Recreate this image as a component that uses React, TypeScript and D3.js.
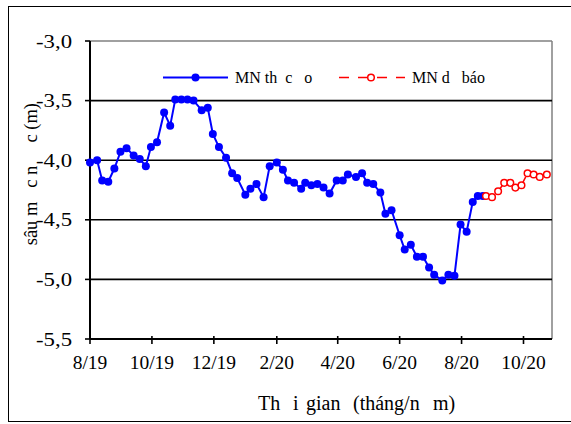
import React from "react";
import * as d3 from "d3";

const obsDates = [
  "2019-08-01","2019-08-08","2019-08-13","2019-08-19","2019-08-25","2019-08-31",
  "2019-09-06","2019-09-13","2019-09-19","2019-09-25","2019-09-30",
  "2019-10-06","2019-10-13","2019-10-19","2019-10-24","2019-10-30",
  "2019-11-05","2019-11-11","2019-11-19","2019-11-25","2019-11-30",
  "2019-12-06","2019-12-13","2019-12-19","2019-12-24",
  "2020-01-01","2020-01-06","2020-01-12","2020-01-19","2020-01-25",
  "2020-02-01","2020-02-07","2020-02-12","2020-02-18","2020-02-25","2020-02-29",
  "2020-03-06","2020-03-12","2020-03-18","2020-03-24","2020-03-31",
  "2020-04-06","2020-04-11","2020-04-19","2020-04-25","2020-04-30",
  "2020-05-06","2020-05-13","2020-05-18","2020-05-24",
  "2020-06-01","2020-06-06","2020-06-12","2020-06-18","2020-06-24","2020-06-30",
  "2020-07-05","2020-07-13","2020-07-19","2020-07-25","2020-07-31",
  "2020-08-06","2020-08-12","2020-08-17","2020-08-22",
];
const obsValues = [
  -4.02, -4.0, -4.17, -4.18, -4.07, -3.93,
  -3.9, -3.96, -3.99, -4.05, -3.89,
  -3.85, -3.6, -3.71, -3.49, -3.49,
  -3.49, -3.5, -3.58, -3.56, -3.78,
  -3.89, -3.98, -4.11, -4.15,
  -4.29, -4.24, -4.2, -4.31, -4.05,
  -4.02, -4.08, -4.17, -4.19, -4.24, -4.19,
  -4.21, -4.2, -4.23, -4.28, -4.17,
  -4.17, -4.12, -4.14, -4.11, -4.19,
  -4.2, -4.27, -4.45, -4.42,
  -4.63, -4.75, -4.71, -4.81, -4.81, -4.9,
  -4.96, -5.01, -4.96, -4.97, -4.54,
  -4.6, -4.35, -4.3, -4.3,
];
const fcDates = [
  "2020-08-25","2020-08-31","2020-09-06","2020-09-12","2020-09-18","2020-09-23",
  "2020-09-29","2020-10-05","2020-10-11","2020-10-17","2020-10-24",
];
const fcValues = [-4.3, -4.31, -4.26, -4.19, -4.19, -4.23, -4.21, -4.11, -4.12, -4.14, -4.12];

const yTicks = [-3.0, -3.5, -4.0, -4.5, -5.0, -5.5];
const xTickDates = ["2019-08-01","2019-10-01","2019-12-01","2020-02-01","2020-04-01","2020-06-01","2020-08-01","2020-10-01"];
const xTickLabels = ["8/19","10/19","12/19","2/20","4/20","6/20","8/20","10/20"];

const obsName = "MN th\u00a0\u00a0c\u00a0\u00a0\u00a0o";
const fcName = "MN d\u00a0\u00a0\u00a0báo";
const xTitleParts = ["Th", "i", "gian", "(tháng/n", "m)"];
const yTitle = "sâu m\u00a0\u00a0\u00a0c n\u00a0\u00a0\u00a0\u00a0\u00a0c (m)";

const FONT = "Liberation Serif, DejaVu Serif, serif";

export default function App() {
  const parse = d3.utcParse("%Y-%m-%d");
  const left = 90, right = 552, top = 41, bottom = 339;
  const x = d3.scaleUtc()
    .domain([parse("2019-08-01")!, parse("2020-10-01")!])
    .range([left, 523.5]);
  const y = d3.scaleLinear().domain([-3, -5.5]).range([top, bottom]);

  const obs = obsDates.map((d, i) => ({ x: x(parse(d)!), y: y(obsValues[i]) }));
  const fc = fcDates.map((d, i) => ({ x: x(parse(d)!), y: y(fcValues[i]) }));
  const line = d3.line<{ x: number; y: number }>().x((d) => d.x).y((d) => d.y);
  const fmt = (v: number) => v.toFixed(1).replace(".", ",");
  const ts = { fontFamily: FONT, whiteSpace: "pre" as const };
  const titleX = [258, 293, 306, 353, 433];

  return (
    <svg width={571} height={424} style={{ position: "absolute", left: 0, top: 0, fontFamily: FONT }}>
      <rect x={0} y={0} width={571} height={424} fill="#fff" />
      <rect x={8.5} y={6.5} width={570} height={415} fill="none" stroke="#000" strokeWidth={1} />
      <line x1={left} x2={right} y1={top} y2={top} stroke="#808080" strokeWidth={1.5} />
      <line x1={right} x2={right} y1={top} y2={bottom} stroke="#808080" strokeWidth={1.5} />
      {yTicks.slice(1, -1).map((t) => (
        <line key={t} x1={left} x2={right} y1={y(t)} y2={y(t)} stroke="#000" strokeWidth={1.6} />
      ))}
      <line x1={left} x2={left} y1={top} y2={bottom} stroke="#000" strokeWidth={2} />
      {yTicks.map((t) => (
        <g key={t}>
          <line x1={left - 5} x2={left} y1={y(t)} y2={y(t)} stroke="#000" strokeWidth={1.6} />
          <text x={72} y={y(t)} dy="0.35em" textAnchor="end" fontSize={19} style={ts} textLength={36} lengthAdjust="spacingAndGlyphs">{fmt(t)}</text>
        </g>
      ))}
      <line x1={left} x2={right} y1={bottom} y2={bottom} stroke="#000" strokeWidth={2} />
      {xTickDates.map((d, i) => {
        const xx = x(parse(d)!);
        return (
          <g key={d}>
            <line x1={xx} x2={xx} y1={bottom - 3} y2={bottom + 5} stroke="#000" strokeWidth={1.6} />
            <text x={xx} y={369} textAnchor="middle" fontSize={19.5} style={ts}>{xTickLabels[i]}</text>
          </g>
        );
      })}
      <text y={410} fontSize={20} style={ts}>
        {xTitleParts.map((p, i) => (
          <tspan key={i} x={titleX[i]}>{p}</tspan>
        ))}
      </text>
      <text transform="translate(37,103) rotate(-90)" textAnchor="end" fontSize={18.5} style={ts}>{yTitle}</text>
      <path d={line(obs) ?? ""} fill="none" stroke="#0000ff" strokeWidth={2} />
      {obs.map((p, i) => (
        <circle key={i} cx={p.x} cy={p.y} r={4} fill="#0000ff" />
      ))}
      <path d={line(fc) ?? ""} fill="none" stroke="#ff0000" strokeWidth={1.5} strokeDasharray="9,6" />
      {fc.map((p, i) => (
        <circle key={i} cx={p.x} cy={p.y} r={3.3} fill="#fff" stroke="#ff0000" strokeWidth={1.5} />
      ))}
      <line x1={163} x2={228} y1={77.5} y2={77.5} stroke="#0000ff" strokeWidth={2} />
      <circle cx={195.5} cy={77.5} r={4} fill="#0000ff" />
      <text x={235} y={77.5} dy="0.35em" fontSize={16} style={ts}>{obsName}</text>
      <line x1={339} x2={405} y1={77.5} y2={77.5} stroke="#ff0000" strokeWidth={1.5} strokeDasharray="10,9" />
      <circle cx={371} cy={77.5} r={3.3} fill="#fff" stroke="#ff0000" strokeWidth={1.5} />
      <text x={412} y={77.5} dy="0.35em" fontSize={16} style={ts}>{fcName}</text>
    </svg>
  );
}
